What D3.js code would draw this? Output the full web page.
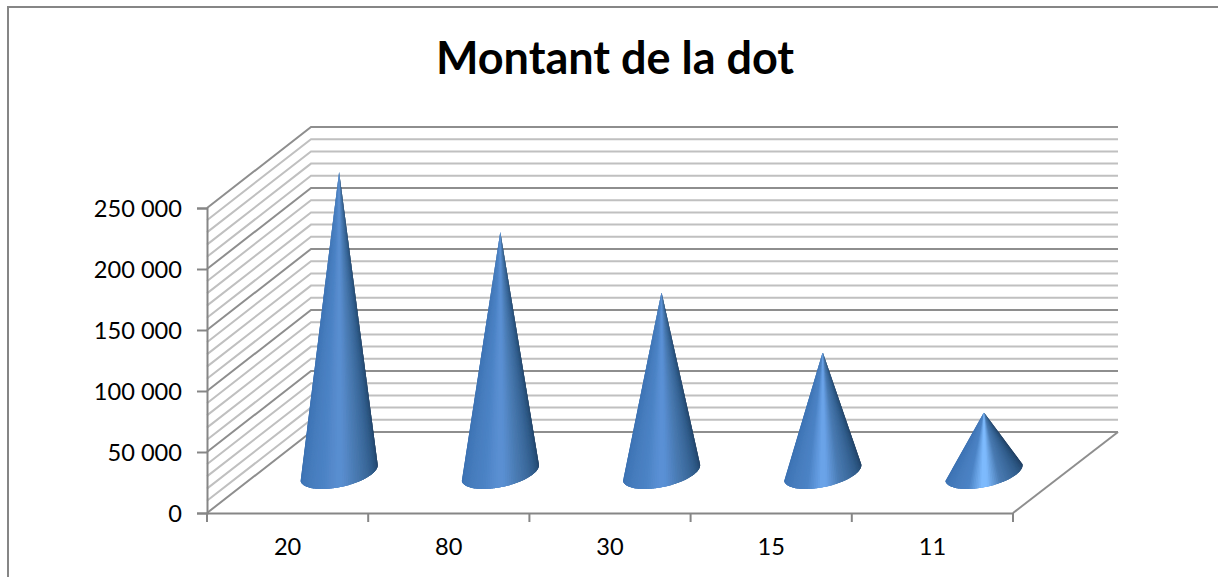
<!DOCTYPE html>
<html lang="fr">
<head>
    <meta charset="UTF-8">
    <title>Montant de la dot</title>
    <script src="https://d3js.org/d3.v7.min.js"></script>
    <style>
        body, html { margin: 0; padding: 0; background: #fff; overflow: hidden; }
        svg { display: block; font-family: Lato, "Open Sans", sans-serif; }
    </style>
</head>
<body>
    <svg width="1218" height="577"></svg>
    <script>
        const chartTitle = "Montant de la dot";
        const categories = ["20", "80", "30", "15", "11"];
        const values = [250000, 200000, 150000, 100000, 50000];
        const yTicks = [0, 50000, 100000, 150000, 200000, 250000];
        const gridValues = d3.range(0, 250001, 10000);

        const svg = d3.select("svg");
        const depthX = 104, depthY = 81;

        const x = d3.scaleBand().domain(categories).range([207, 1013]);
        const y = d3.scaleLinear().domain([0, 250000]).range([513, 208]);
        // cones stand mid-depth, where the picture's height comes out slightly smaller
        const coneY = d3.scaleLinear().domain([0, 250000]).range([513 - depthY / 2, 172]);
        const highlight = d3.scaleLinear().domain([50000, 100000, 150000, 250000])
            .range(["#7fbcff", "#6ba4ea", "#5b91d6", "#5a8ed0"]);
        const fmt = d3.formatLocale({ decimal: ",", thousands: " ", grouping: [3], currency: ["", ""] }).format(",d");

        // soft edge on the cones, the source picture is a bit blurred
        svg.append("defs").append("filter").attr("id", "soft")
            .append("feGaussianBlur").attr("stdDeviation", 0.6);

        // chart frame (cut by the screenshot on the right and at the bottom)
        svg.append("path").attr("d", "M8,577V7H1218").attr("fill", "none").attr("stroke", "#868686").attr("stroke-width", 2);

        svg.append("text").attr("x", 615).attr("y", 74).attr("text-anchor", "middle")
            .attr("font-size", 45).attr("font-weight", 700).attr("fill", "#000").text(chartTitle);

        // side wall and back wall gridlines
        svg.append("g").selectAll("path").data(gridValues).enter().append("path")
            .attr("d", d => `M${x.range()[0]},${y(d)}L${x.range()[0] + depthX},${y(d) - depthY}H${x.range()[1] + depthX + 1}`)
            .attr("fill", "none")
            .attr("stroke", d => d % 50000 === 0 ? "#8e8e8e" : "#c0c0c0")
            .attr("stroke-width", 2);

        // right edge of the floor
        svg.append("line").attr("x1", x.range()[1]).attr("y1", y(0))
            .attr("x2", x.range()[1] + depthX + 1).attr("y2", y(0) - depthY)
            .attr("stroke", "#8e8e8e").attr("stroke-width", 2);

        // axes
        const yAxis = svg.append("g").attr("transform", `translate(${x.range()[0]},0)`)
            .call(d3.axisLeft(y).tickValues(yTicks).tickFormat(fmt).tickSize(10).tickPadding(15));
        const xAxis = svg.append("g").attr("transform", `translate(0,${y(0)})`)
            .call(d3.axisBottom(x).tickSize(0).tickPadding(25).tickSizeOuter(0));
        svg.selectAll("g.tick text").attr("font-size", 23.6).attr("fill", "#000").attr("font-family", "Lato");
        yAxis.selectAll(".tick text").attr("dy", "0.36em");
        svg.selectAll(".domain, .tick line").attr("stroke", "#868686").attr("stroke-width", 2);

        // x ticks sit between the categories, not on them
        svg.append("g").selectAll("line").data([null].concat(categories)).enter().append("line")
            .attr("x1", d => d === null ? x.range()[0] : x(d) + x.step())
            .attr("x2", d => d === null ? x.range()[0] : x(d) + x.step())
            .attr("y1", y(0)).attr("y2", y(0) + 9)
            .attr("stroke", "#868686").attr("stroke-width", 2);

        // cones: wedges from the apex to the front half of a tilted base ellipse,
        // so the shading converges on the tip like the original
        const radiusA = 39.4, radiusB = 14.5, tilt = -12.4 * Math.PI / 180;
        const wedgeCount = 60;

        function basePoint(cx, cy, t) {
            // t = 0 at the left end of the base, t = 1 at the right end
            const a = Math.PI * (1 - t);
            const ex = radiusA * Math.cos(a), ey = radiusB * Math.sin(a);
            return [cx + ex * Math.cos(tilt) - ey * Math.sin(tilt), cy + ex * Math.sin(tilt) + ey * Math.cos(tilt)];
        }

        const conesG = svg.append("g");
        categories.forEach((c, i) => {
            const cx = x(c) + x.bandwidth() / 2 + depthX / 2 - 0.5;
            const cy = coneY(0);
            const tipY = coneY(values[i]);
            const shade = d3.scaleLinear()
                .domain([0, 0.15, 0.36, 0.48, 0.6, 0.8, 1])
                .range(["#3a70b0", "#4278b9", "#4c83c5", highlight(values[i]), "#497ab2", "#2f5b89", "#1d3a5b"]);
            // paint outside-in with overlap: no seams, and the light stripe stays on top at the tip
            const wedges = d3.range(wedgeCount).map(k => (k + 0.5) / wedgeCount)
                .sort((a, b) => Math.abs(b - 0.48) - Math.abs(a - 0.48));
            conesG.append("g").attr("filter", "url(#soft)")
                .selectAll("path").data(wedges).enter().append("path")
                .attr("d", t => {
                    const t0 = Math.max(0, t - 1.5 / wedgeCount), t1 = Math.min(1, t + 1.5 / wedgeCount);
                    const p = d3.range(0, 7).map(s => basePoint(cx, cy, t0 + (t1 - t0) * s / 6));
                    return "M" + cx + "," + tipY + "L" + p.join("L") + "Z";
                })
                .attr("fill", t => shade(t));
        });
    </script>
</body>
</html>
